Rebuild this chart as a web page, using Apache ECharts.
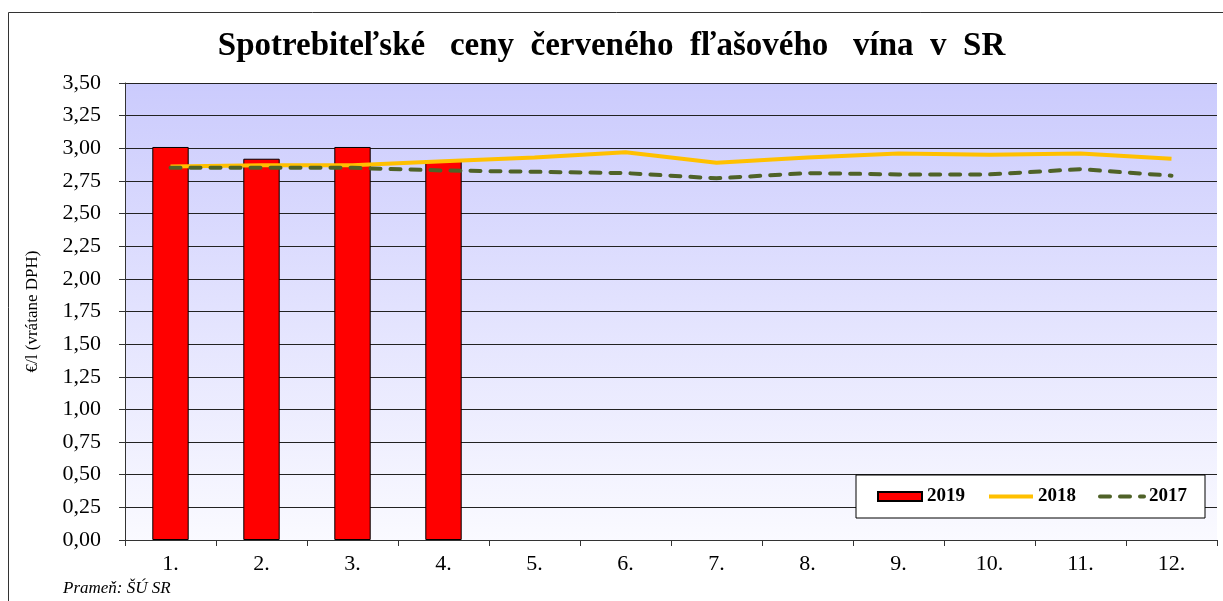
<!DOCTYPE html>
<html>
<head>
<meta charset="utf-8">
<script src="https://cdn.jsdelivr.net/npm/echarts@6/dist/echarts.min.js"></script>
<style>
  html, body { margin: 0; padding: 0; background: #fff; }
  #chart { width: 1223px; height: 601px; }
</style>
</head>
<body>
<div id="chart"></div>
<script>
// mesiace
const months = ['1.', '2.', '3.', '4.', '5.', '6.', '7.', '8.', '9.', '10.', '11.', '12.'];
// ceny v €/l
const price2019 = [3.01, 2.92, 3.01, 2.91];
const price2018 = [2.86, 2.87, 2.87, 2.90, 2.93, 2.97, 2.89, 2.93, 2.96, 2.95, 2.96, 2.92];
const price2017 = [2.85, 2.85, 2.85, 2.83, 2.82, 2.81, 2.77, 2.81, 2.80, 2.80, 2.84, 2.79];

const serif = '"Liberation Serif", "DejaVu Serif", serif';

const myChart = echarts.init(document.getElementById('chart'));

const option = {
    animation: false,
    backgroundColor: '#fff',
    textStyle: { fontFamily: serif },
    title: {
        text: 'Spotrebiteľské   ceny  červeného  fľašového   vína  v  SR',
        left: 'center',
        top: 25,
        textStyle: { fontFamily: serif, fontSize: 33, fontWeight: 'bold', color: '#000' }
    },
    graphic: [
        {
            type: 'rect',
            shape: { x: 8.5, y: 12.5, width: 1230, height: 600 },
            style: { fill: 'none', stroke: '#333', lineWidth: 1 },
            silent: true
        },
        {
            type: 'text',
            left: 63,
            top: 580,
            style: { text: 'Prameň: ŠÚ SR', font: 'italic 17px ' + serif, fill: '#000' }
        }
    ],
    legend: {
        left: 856,
        top: 475,
        padding: [12, 18, 12, 21],
        itemGap: 22,
        itemWidth: 44,
        itemHeight: 9,
        backgroundColor: '#fff',
        borderColor: '#000',
        borderWidth: 1,
        textStyle: { fontFamily: serif, fontSize: 19, fontWeight: 'bold', color: '#000' },
        data: [
            { name: '2019', icon: 'rect' },
            { name: '2018', itemStyle: { opacity: 0 }, lineStyle: { width: 4 } },
            { name: '2017', itemStyle: { opacity: 0 }, lineStyle: { width: 4 } }
        ]
    },
    grid: {
        left: 125,
        right: 6,
        top: 83,
        bottom: 61,
        show: true,
        borderWidth: 0,
        backgroundColor: {
            type: 'linear', x: 0, y: 0, x2: 0, y2: 1,
            colorStops: [
                { offset: 0, color: '#cbcbfd' },
                { offset: 1, color: '#fafaff' }
            ]
        }
    },
    xAxis: {
        type: 'category',
        data: months,
        boundaryGap: true,
        axisLine: { lineStyle: { color: '#333', width: 1 } },
        axisTick: { show: true, length: 6, lineStyle: { color: '#333' } },
        axisLabel: { color: '#000', fontSize: 22, fontFamily: serif, margin: 13 }
    },
    yAxis: {
        type: 'value',
        min: 0,
        max: 3.5,
        interval: 0.25,
        name: '€/l (vrátane DPH)',
        nameLocation: 'middle',
        nameGap: 84,
        nameTextStyle: { fontFamily: serif, fontSize: 17, color: '#000' },
        axisLine: { show: true, lineStyle: { color: '#333', width: 1 } },
        axisTick: { show: true, length: 6, lineStyle: { color: '#333' } },
        splitLine: { lineStyle: { color: '#222', width: 1 } },
        axisLabel: {
            color: '#000',
            fontSize: 22,
            fontFamily: serif,
            margin: 24,
            formatter: v => v.toFixed(2).replace('.', ',')
        }
    },
    series: [
        {
            name: '2019',
            type: 'bar',
            data: price2019,
            barWidth: '40%',
            itemStyle: { color: '#ff0000', borderColor: '#000', borderWidth: 1 },
            z: 2
        },
        {
            name: '2018',
            type: 'line',
            data: price2018,
            symbol: 'none',
            lineStyle: { color: '#ffc000', width: 4 },
            itemStyle: { color: '#ffc000' },
            z: 3
        },
        {
            name: '2017',
            type: 'line',
            data: price2017,
            symbol: 'none',
            lineStyle: { color: '#4f6228', width: 4, type: [10, 10], cap: 'round' },
            itemStyle: { color: '#4f6228' },
            z: 4
        }
    ]
};

myChart.setOption(option);
</script>
</body>
</html>
